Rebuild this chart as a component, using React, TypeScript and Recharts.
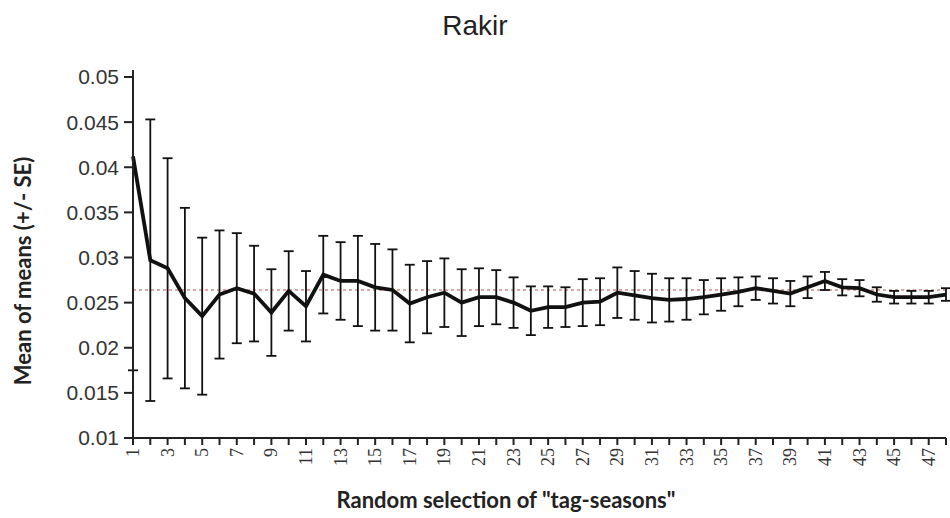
import React from "react"
import { LineChart, Line, XAxis, YAxis, ErrorBar, ReferenceLine, Label } from "recharts"

// "tag-season" sample sizes 1..48
const seasons = Array.from({ length: 48 }, (_, i) => i + 1)

const meanOfMeans = [
  0.0412, 0.0297, 0.0288, 0.0255, 0.0235, 0.0259, 0.0266, 0.026, 0.0239, 0.0263,
  0.0246, 0.0281, 0.0274, 0.0274, 0.0267, 0.0264, 0.0249, 0.0256, 0.0261, 0.025,
  0.0256, 0.0256, 0.025, 0.0241, 0.0245, 0.0245, 0.025, 0.0251, 0.0261, 0.0258,
  0.0255, 0.0253, 0.0254, 0.0256, 0.0259, 0.0262, 0.0266, 0.0263, 0.026, 0.0267,
  0.0274, 0.0267, 0.0266, 0.0259, 0.0256, 0.0256, 0.0256, 0.0259,
]

const stdErr = [
  0.0237, 0.0156, 0.0122, 0.01, 0.0087, 0.0071, 0.0061, 0.0053, 0.0048, 0.0044,
  0.0039, 0.0043, 0.0043, 0.005, 0.0048, 0.0045, 0.0043, 0.004, 0.0038, 0.0037,
  0.0032, 0.003, 0.0028, 0.0027, 0.0023, 0.0022, 0.0026, 0.0026, 0.0028, 0.0027,
  0.0027, 0.0024, 0.0023, 0.0019, 0.0018, 0.0016, 0.0013, 0.0014, 0.0014, 0.0012,
  0.001, 0.0009, 0.0009, 0.0008, 0.0007, 0.0007, 0.0007, 0.0007,
]

const yTicks = [0.01, 0.015, 0.02, 0.025, 0.03, 0.035, 0.04, 0.045, 0.05]
const overallMean = 0.0264

const chartData = seasons.map((s, i) => ({ season: s, mean: meanOfMeans[i], se: stdErr[i] }))

const SeasonTick = (props: any) => {
  const { x, y, payload } = props
  if (payload.value % 2 === 0) return null
  return (
    <text
      x={x}
      y={y}
      transform={`rotate(-90, ${x}, ${y})`}
      textAnchor="end"
      dominantBaseline="central"
      fontFamily="'Liberation Serif', serif"
      fontSize={18}
      fill="#333"
    >
      {payload.value}
    </text>
  )
}

const axisTitle = { fontFamily: "Lato, 'Open Sans', sans-serif", fontWeight: 700, fontSize: 22, fill: "#222" }

export default function App() {
  return (
    <div style={{ position: "absolute", left: 0, top: 0, width: 950, height: 518, background: "#fff" }}>
      <LineChart width={950} height={518} data={chartData} margin={{ top: 77, right: 4, bottom: 0, left: 0 }}>
        <XAxis
          dataKey="season"
          type="number"
          domain={[1, 48]}
          ticks={seasons}
          interval={0}
          tick={<SeasonTick />}
          tickSize={7}
          tickMargin={3}
          height={80}
          stroke="#222"
          strokeWidth={2}
        >
          <Label
            content={() => (
              <text x={506} y={508} textAnchor="middle" {...axisTitle}>
                Random selection of "tag-seasons"
              </text>
            )}
          />
        </XAxis>
        <YAxis
          type="number"
          domain={[0.01, 0.05]}
          ticks={yTicks}
          allowDataOverflow
          width={133}
          tickSize={9}
          tickMargin={5}
          tick={{ fontSize: 21, fill: "#333", fontFamily: "'Liberation Sans', Arial, sans-serif" }}
          tickFormatter={(v: number) => String(v)}
          stroke="#222"
          strokeWidth={2}
        >
          <Label
            content={() => (
              <text x={22} y={271} transform="rotate(-90, 22, 271)" textAnchor="middle" dominantBaseline="central" {...axisTitle}>
                Mean of means (+/- SE)
              </text>
            )}
          />
        </YAxis>
        <ReferenceLine y={overallMean} stroke="#c0504d" strokeDasharray="3 3" strokeWidth={1} ifOverflow="hidden" />
        <Line
          type="linear"
          dataKey="mean"
          stroke="#111"
          strokeWidth={3.8}
          dot={false}
          isAnimationActive={false}
        >
          <ErrorBar dataKey="se" width={5} stroke="#111" strokeWidth={1.8} direction="y" />
        </Line>
      </LineChart>
      {/* hides the part of the first SE bar that runs past the top of the axis */}
      <div style={{ position: "absolute", left: 0, top: 0, width: 950, height: 70, background: "#fff" }} />
      <div
        style={{
          position: "absolute",
          left: 0,
          width: 950,
          top: 10,
          textAlign: "center",
          fontFamily: "'Liberation Sans', Arial, sans-serif",
          fontSize: 28,
          color: "#222",
        }}
      >
        Rakir
      </div>
    </div>
  )
}
